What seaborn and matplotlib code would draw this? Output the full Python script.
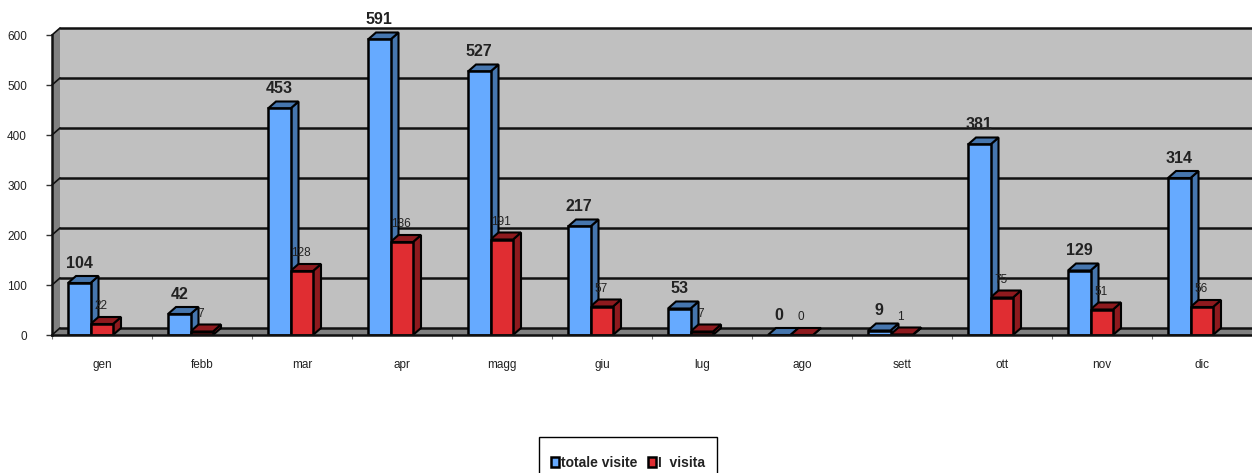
import numpy as np
import pandas as pd
import seaborn as sb
import matplotlib.pyplot as plt
from matplotlib.patches import Polygon

mesi = ['gen', 'febb', 'mar', 'apr', 'magg', 'giu', 'lug', 'ago', 'sett', 'ott', 'nov', 'dic']
totale_visite = [104, 42, 453, 591, 527, 217, 53, 0, 9, 381, 129, 314]
prima_visita = [22, 7, 128, 186, 191, 57, 7, 0, 1, 75, 51, 56]
y_ticks = [0, 100, 200, 300, 400, 500, 600]
serie = ['totale visite', 'I  visita']

data = pd.DataFrame({
    'mese': mesi * 2,
    'visite': totale_visite + prima_visita,
    'serie': [serie[0]] * 12 + [serie[1]] * 12,
})

# front / depth colours
front = {serie[0]: '#66AAFF', serie[1]: '#E02D32'}
depth = {serie[0]: '#4676AE', serie[1]: '#8E1A1E'}
# fake 3d offset, in data units (8px right, 7px up)
dx, dy = 0.08, 14

sb.set_theme(style='white')
plt.rcParams['font.family'] = ['Liberation Sans', 'DejaVu Sans']

W, H = 1252, 473
fig = plt.figure(figsize=(W / 100, H / 100), dpi=100)
ax = fig.add_axes([52 / W, 1 - 335 / H, 1200 / W, 307 / H])

sb.barplot(data=data, x='mese', y='visite', hue='serie', palette=front, width=0.45,
           edgecolor='black', linewidth=1.8, saturation=1, ax=ax)

x0, x1 = -0.385, 11.615
ax.set_xlim(x0, x1)
ax.set_ylim(0, 614)

# walls
ax.add_patch(Polygon([(x0 + dx, dy), (x1, dy), (x1, 614), (x0 + dx, 614)], fc='#C0C0C0', ec='none', zorder=0))
ax.add_patch(Polygon([(x0, 0), (x0 + dx, dy), (x0 + dx, 614), (x0, 600)], fc='#808080', ec='none', zorder=0.1))
ax.add_patch(Polygon([(x0, 0), (x0 + dx, dy), (x1, dy), (x1, 0)], fc='#808080', ec='none', zorder=0.1))
for v in y_ticks:
    ax.plot([x0 + dx, x1], [v + dy, v + dy], color='#111111', lw=1.8, zorder=0.5, clip_on=False)
    ax.plot([x0, x0 + dx], [v, v + dy], color='#111111', lw=1.2, zorder=0.5, clip_on=False)

# bar sides and tops
handles = list(ax.containers)
for cont, name in zip(handles, serie):
    for b in cont:
        b.set_zorder(3)
        l, r, h = b.get_x(), b.get_x() + b.get_width(), b.get_height()
        c = depth[name]
        ax.add_patch(Polygon([(r, 0), (r + dx, dy), (r + dx, h + dy), (r, h)], fc=c, ec='black', lw=1.5, zorder=2))
        ax.add_patch(Polygon([(l, h), (l + dx, h + dy), (r + dx, h + dy), (r, h)], fc=c, ec='black', lw=1.5, zorder=2))

# value labels
for cont, name in zip(handles, serie):
    big = name == serie[0]
    for b in cont:
        xc = b.get_x() + b.get_width() / 2
        ax.annotate(str(int(b.get_height())), (xc, b.get_height()),
                    xytext=(0 if big else -1, 20 if big else 18), textcoords='offset pixels',
                    ha='center', va='center', zorder=5, color='#222222',
                    fontsize=11.5 if big else 8.5, fontweight='bold' if big else 'normal')

# axes
for s in ['top', 'right']:
    ax.spines[s].set_visible(False)
for s in ['left', 'bottom']:
    ax.spines[s].set_color('#111111')
    ax.spines[s].set_linewidth(1.8)
    ax.spines[s].set_zorder(4)
ax.spines['left'].set_bounds(0, 600)

pos = np.arange(12)
ax.set_xticks(pos + 0.115, mesi)
ax.set_xticks(pos + x0, minor=True)
ax.tick_params(axis='x', which='major', length=0, pad=17, labelsize=8.5, labelcolor='#222222')
ax.tick_params(axis='x', which='minor', bottom=True, length=3, width=0.8, color='#777777')
ax.set_yticks(y_ticks)
ax.tick_params(axis='y', left=True, length=4, width=1, color='#333333', pad=14, labelsize=8.5, labelcolor='#222222')
ax.set_xlabel('')
ax.set_ylabel('')

leg = ax.legend(handles, serie, loc='upper left', bbox_to_anchor=(539 / W, 1 - 437 / H),
                bbox_transform=fig.transFigure, borderaxespad=0, ncol=2, frameon=True,
                fancybox=False, edgecolor='black', framealpha=1, handlelength=0.6, handleheight=0.7,
                handletextpad=0.15, columnspacing=0.75, borderpad=0.85, labelspacing=0,
                title=' ', title_fontsize=5, prop={'weight': 'bold', 'size': 10})
leg.get_frame().set_linewidth(1)
for t in leg.get_texts():
    t.set_color('#222222')

fig.savefig('out.png', dpi=100)
